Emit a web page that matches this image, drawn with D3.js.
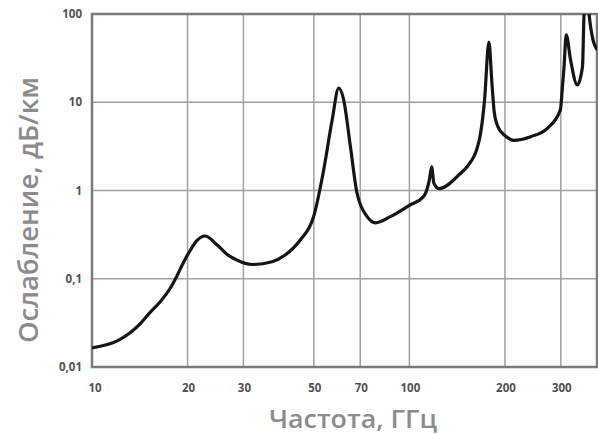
<!DOCTYPE html>
<html>
<head>
<meta charset="utf-8">
<script src="https://cdn.jsdelivr.net/npm/d3@7"></script>
<style>
  body { margin: 0; background: #fff; }
  svg { display: block; }
  .tick-label { font-family: "Open Sans", sans-serif; font-size: 11.5px; font-weight: 700; fill: #505050; }
  .axis-title { font-family: "Open Sans", sans-serif; font-weight: 600; fill: #8c8c8c; }
</style>
</head>
<body>
<svg id="chart"></svg>
<script>
// Frequency (GHz) and attenuation (dB/km)
const freq = [10, 12.1, 14.2, 15.2, 16.4, 17.6, 18.5, 19.4, 20.4, 21.4, 22.7, 24.7, 26.6, 28.6, 31.9, 36.9,
  40.6, 45.3, 49.9, 53.7, 57.1, 59.9, 62.1, 65.2, 68.4, 73.6, 78.2, 87.1, 100, 111, 115.5, 117.5,
  119.5, 124, 145, 152, 166, 172.5, 178, 182, 185, 190, 200, 213, 241, 272, 299, 303, 307, 312, 322,
  338, 351, 355, 362, 368, 377, 391];
const atten = [0.0165, 0.020, 0.031, 0.041, 0.055, 0.077, 0.107, 0.152, 0.21, 0.27, 0.305, 0.245, 0.19, 0.163, 0.145, 0.156,
  0.186, 0.275, 0.505, 1.71, 6.3, 14.5, 10.6, 3.13, 0.93, 0.505, 0.43, 0.505, 0.68, 0.86, 1.3, 1.85,
  1.2, 1.05, 1.57, 1.86, 3.73, 10.6, 48, 16.4, 7.8, 5.3, 4.2, 3.7, 4.07, 5.07, 8.2, 13.8, 25, 58, 30,
  15.7, 25.3, 100, 200, 100, 55, 39];

const xTicks = [10, 20, 30, 50, 70, 100, 200, 300];
const xTickLabels = ["10", "20", "30", "50", "70", "100", "200", "300"];
const yTicks = [0.01, 0.1, 1, 10, 100];
const yTickLabels = ["0,01", "0,1", "1", "10", "100"];

const xTitle = "Частота, ГГц";
const yTitle = "Ослабление, дБ/км";

const W = 598, H = 434;
const margin = {top: 14, right: 1, bottom: 67, left: 92};
const width = W - margin.left - margin.right;
const height = H - margin.top - margin.bottom;

const svg = d3.select("#chart").attr("width", W).attr("height", H);
const chart = svg.append("g").attr("transform", `translate(${margin.left},${margin.top})`);

const xScale = d3.scaleLog().domain([10, 390]).range([0, width]);
const yScale = d3.scaleLog().domain([0.01, 100]).range([height, 0]);

// grid lines
chart.append("g").selectAll("line")
  .data(xTicks.slice(1))
  .join("line")
  .attr("x1", d => xScale(d)).attr("x2", d => xScale(d))
  .attr("y1", 0).attr("y2", height)
  .attr("stroke", "#a0a0a0").attr("stroke-width", 1.5);

chart.append("g").selectAll("line")
  .data(yTicks.slice(1, -1))
  .join("line")
  .attr("x1", 0).attr("x2", width)
  .attr("y1", d => yScale(d)).attr("y2", d => yScale(d))
  .attr("stroke", "#a0a0a0").attr("stroke-width", 1.5);

// frame
chart.append("rect")
  .attr("width", width).attr("height", height)
  .attr("fill", "none")
  .attr("stroke", "#7a7a7a").attr("stroke-width", 2.5);

// curve
chart.append("clipPath").attr("id", "plot-clip")
  .append("rect").attr("width", width).attr("height", height);

const data = freq.map((f, i) => ({f: f, a: atten[i]}));
chart.append("path")
  .datum(data)
  .attr("clip-path", "url(#plot-clip)")
  .attr("fill", "none")
  .attr("stroke", "#151515")
  .attr("stroke-width", 3.2)
  .attr("stroke-linejoin", "round")
  .attr("d", d3.line()
    .x(d => xScale(d.f))
    .y(d => yScale(d.a))
    .curve(d3.curveMonotoneX));

// tick labels
chart.append("g").selectAll("text")
  .data(xTicks)
  .join("text")
  .attr("class", "tick-label")
  .attr("x", (d, i) => xScale(d) + (i === 0 ? 3 : 1))
  .attr("y", height + 25)
  .attr("text-anchor", "middle")
  .text((d, i) => xTickLabels[i]);

chart.append("g").selectAll("text")
  .data(yTicks)
  .join("text")
  .attr("class", "tick-label")
  .attr("x", -10)
  .attr("y", d => yScale(d) + 4)
  .attr("text-anchor", "end")
  .text((d, i) => yTickLabels[i]);

// axis titles
svg.append("text")
  .attr("class", "axis-title")
  .attr("x", 353).attr("y", 428)
  .attr("text-anchor", "middle")
  .attr("textLength", 168)
  .attr("lengthAdjust", "spacingAndGlyphs")
  .style("font-size", "25px")
  .text(xTitle);

svg.append("text")
  .attr("class", "axis-title")
  .attr("transform", "translate(38,210) rotate(-90)")
  .attr("text-anchor", "middle")
  .attr("textLength", 266)
  .attr("lengthAdjust", "spacingAndGlyphs")
  .style("font-size", "27px")
  .text(yTitle);
</script>
</body>
</html>
